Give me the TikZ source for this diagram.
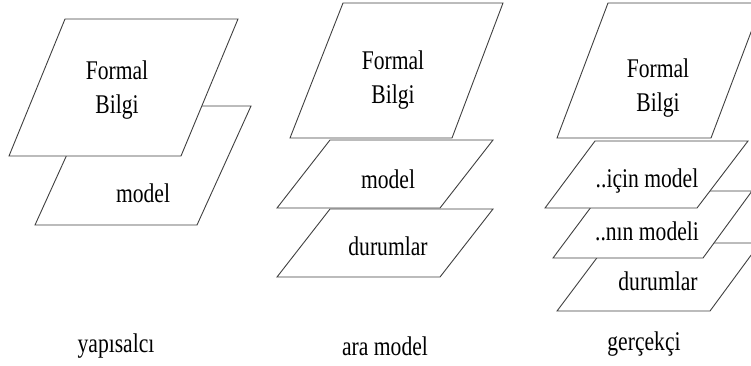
\documentclass[tikz,border=0pt]{standalone}
\usepackage{fontspec}
\setmainfont{Liberation Serif}
\newcommand\narrowtx[1]{\scalebox{0.8}[1]{#1}}
\begin{document}
\begin{tikzpicture}[x=1pt,y=1pt,
  plane/.style={draw=black!75, line width=0.9pt, fill=white, line join=miter},
  lbl/.style={inner sep=0pt, font=\fontsize{27pt}{34pt}\selectfont, anchor=base},
  blk/.style={inner sep=0pt, font=\fontsize{27pt}{34pt}\selectfont, align=center}]
\useasboundingbox (0,0) rectangle (751,-365);
\clip (0,0) rectangle (751,-365);
% left column: yapisalci
\draw[plane] (89,-106) -- (251,-106) -- (197,-225) -- (35,-225) -- cycle;
\draw[plane] (65,-19) -- (238,-19) -- (181,-156) -- (9,-156) -- cycle;
\node[blk] (lf) at (117,-90) {\narrowtx{Formal}\\\narrowtx{Bilgi}};
\node[lbl] (lm) at (143,-202) {\narrowtx{model}};
\node[lbl] (lt) at (116,-352) {\narrowtx{yapısalcı}};
% middle column: ara model
\draw[plane] (330,-209) -- (493,-209) -- (440,-277) -- (277,-277) -- cycle;
\draw[plane] (330,-140) -- (493,-140) -- (440,-208) -- (277,-208) -- cycle;
\draw[plane] (343,-3) -- (503,-3) -- (452,-138) -- (290,-138) -- cycle;
\node[blk] (mf) at (393,-80) {\narrowtx{Formal}\\\narrowtx{Bilgi}};
\node[lbl] (mm) at (388,-188) {\narrowtx{model}};
\node[lbl] (md) at (388,-255) {\narrowtx{durumlar}};
\node[lbl] (mt) at (385,-355) {\narrowtx{ara model}};
% right column: gercekci
\draw[plane] (608,-243) -- (760,-243) -- (710,-311) -- (557,-311) -- cycle;
\draw[plane] (603,-191) -- (752,-191) -- (703,-258) -- (553,-258) -- cycle;
\draw[plane] (595,-141) -- (748,-141) -- (697,-208) -- (545,-208) -- cycle;
\draw[plane] (608,-3) -- (762,-3) -- (711,-138) -- (557,-138) -- cycle;
\node[blk] (rf) at (658,-88) {\narrowtx{Formal}\\\narrowtx{Bilgi}};
\node[lbl] (ri) at (647,-187) {\narrowtx{..için model}};
\node[lbl] (rn) at (647,-240) {\narrowtx{..nın modeli}};
\node[lbl] (rd) at (658,-290) {\narrowtx{durumlar}};
\node[lbl] (rt) at (644,-350) {\narrowtx{gerçekçi}};
\end{tikzpicture}
\end{document}
